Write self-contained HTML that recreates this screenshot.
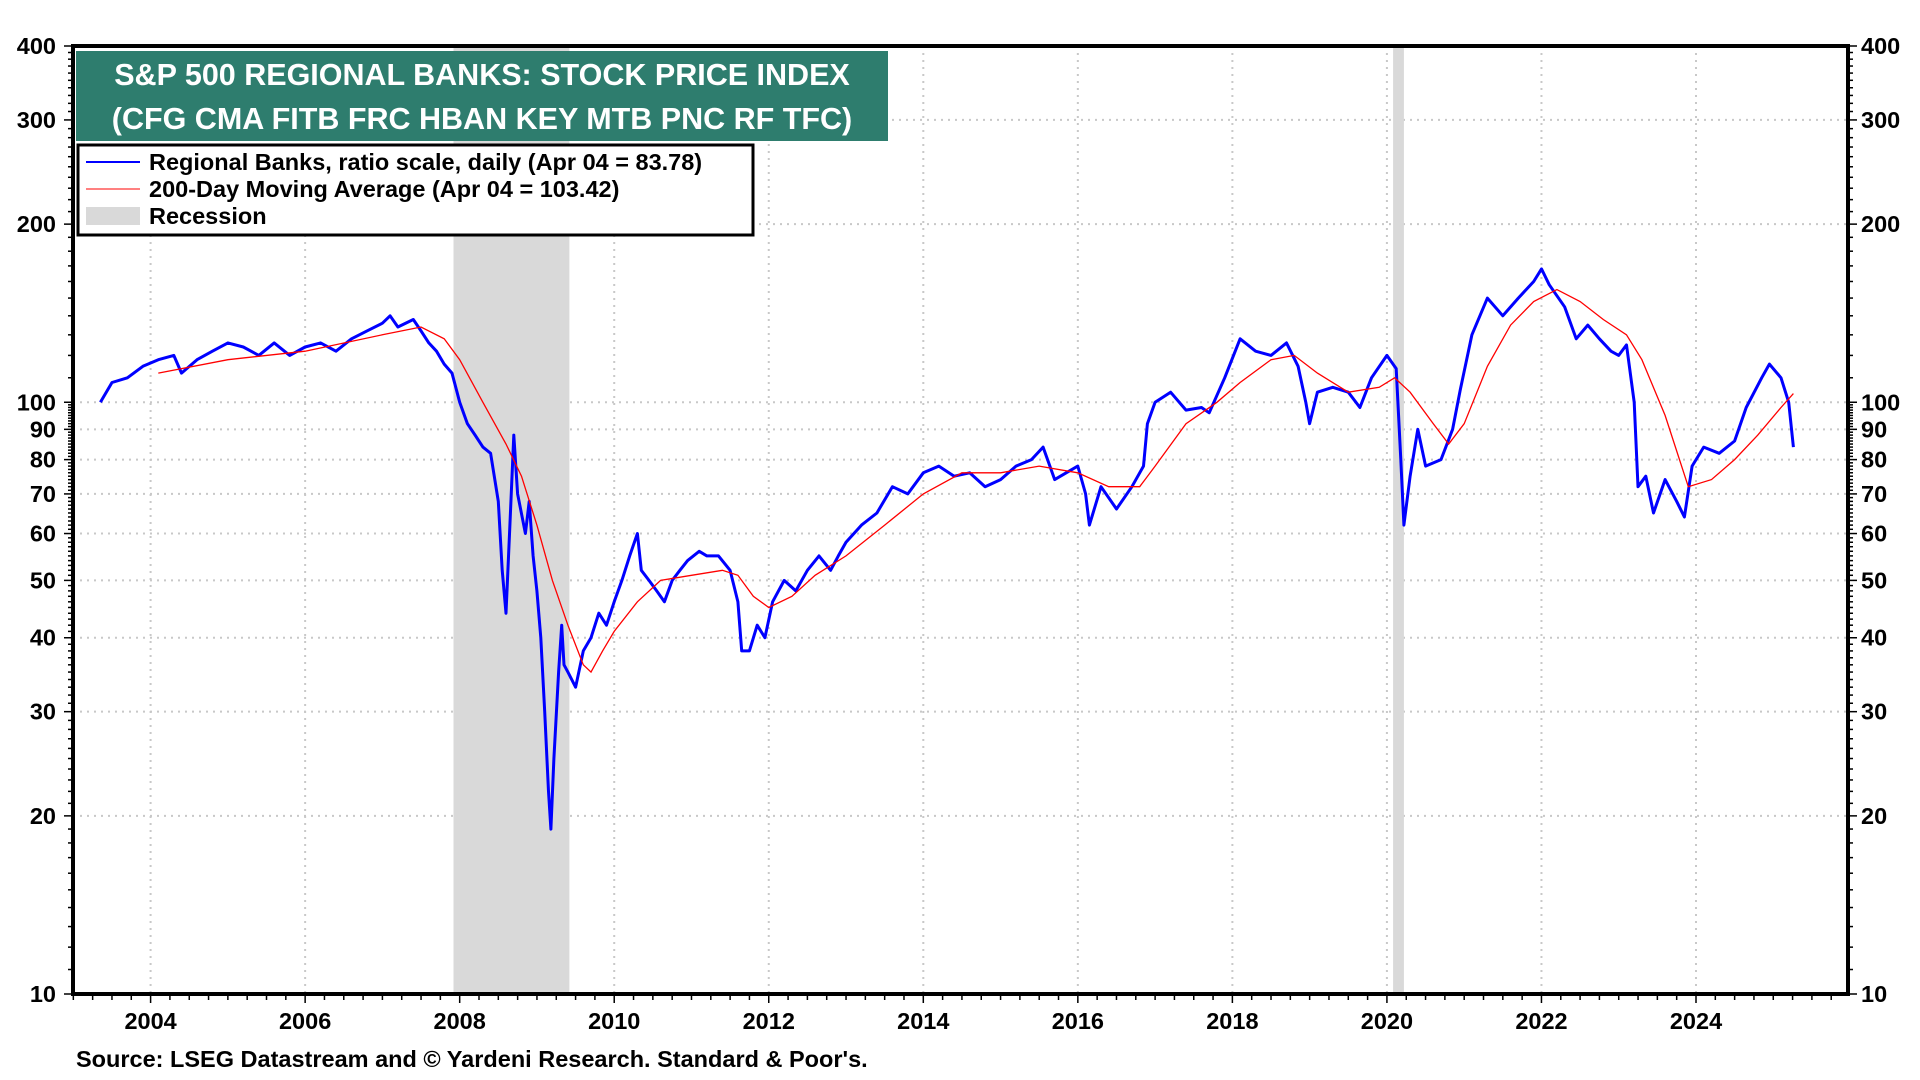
<!DOCTYPE html>
<html><head><meta charset="utf-8"><style>
html,body{margin:0;padding:0;background:#fff;}
svg{display:block;font-family:"Liberation Sans",Arial,sans-serif;}
</style></head><body>
<svg id="chart" width="1920" height="1080" viewBox="0 0 1920 1080">
<g id="grid"></g>
<g id="recessions"></g>
<g id="series"></g>
<g id="axes"></g>
<rect x="76" y="51" width="812" height="90" fill="#2e7d6e"/>
<text x="482" y="85" text-anchor="middle" fill="#fff" font-size="30.5" font-weight="bold">S&amp;P 500 REGIONAL BANKS: STOCK PRICE INDEX</text>
<text x="482" y="129" text-anchor="middle" fill="#fff" font-size="30.5" font-weight="bold">(CFG CMA FITB FRC HBAN KEY MTB PNC RF TFC)</text>
<g>
<rect x="78" y="145" width="675" height="90" fill="#fff" stroke="#000" stroke-width="3"/>
<line x1="86" y1="162" x2="140" y2="162" stroke="#0000ff" stroke-width="2"/>
<text x="149" y="170" font-size="23.5" font-weight="bold">Regional Banks, ratio scale, daily (Apr 04 = 83.78)</text>
<line x1="86" y1="189" x2="140" y2="189" stroke="#ff0000" stroke-width="1"/>
<text x="149" y="197" font-size="23.5" font-weight="bold">200-Day Moving Average (Apr 04 = 103.42)</text>
<rect x="86" y="207" width="54" height="18" fill="#d9d9d9"/>
<text x="149" y="224" font-size="23.5" font-weight="bold">Recession</text>
</g>
<text x="76" y="1067" font-size="23.5" font-weight="bold">Source: LSEG Datastream and © Yardeni Research. Standard &amp; Poor's.</text>
</svg>
<script>
const yTicks=[10,20,30,40,50,60,70,80,90,100,200,300,400];
const xTickYears=[2004,2006,2008,2010,2012,2014,2016,2018,2020,2022,2024];
const recessions=[[2007.92,2009.42],[2020.08,2020.22]];
const priceT=[2003.35,2003.5,2003.7,2003.9,2004.1,2004.3,2004.4,2004.6,2004.8,2005.0,2005.2,2005.4,2005.6,2005.8,2006.0,2006.2,2006.4,2006.6,2006.8,2007.0,2007.1,2007.2,2007.4,2007.5,2007.6,2007.7,2007.8,2007.9,2008.0,2008.1,2008.2,2008.3,2008.4,2008.5,2008.55,2008.6,2008.65,2008.7,2008.75,2008.85,2008.9,2008.95,2009.0,2009.05,2009.1,2009.15,2009.18,2009.22,2009.28,2009.32,2009.35,2009.4,2009.5,2009.6,2009.7,2009.8,2009.9,2010.0,2010.1,2010.2,2010.3,2010.35,2010.45,2010.55,2010.65,2010.75,2010.85,2010.95,2011.1,2011.2,2011.35,2011.5,2011.6,2011.65,2011.75,2011.85,2011.95,2012.05,2012.2,2012.35,2012.5,2012.65,2012.8,2012.9,2013.0,2013.2,2013.4,2013.6,2013.8,2014.0,2014.2,2014.4,2014.6,2014.8,2015.0,2015.2,2015.4,2015.55,2015.7,2015.85,2016.0,2016.1,2016.15,2016.3,2016.5,2016.7,2016.85,2016.9,2017.0,2017.2,2017.4,2017.6,2017.7,2017.9,2018.1,2018.3,2018.5,2018.7,2018.85,2018.95,2019.0,2019.1,2019.3,2019.5,2019.65,2019.8,2020.0,2020.12,2020.18,2020.22,2020.3,2020.4,2020.5,2020.7,2020.85,2020.95,2021.1,2021.3,2021.5,2021.7,2021.9,2022.0,2022.1,2022.3,2022.45,2022.6,2022.75,2022.9,2023.0,2023.1,2023.2,2023.25,2023.35,2023.45,2023.6,2023.75,2023.85,2023.95,2024.1,2024.3,2024.5,2024.65,2024.85,2024.95,2025.1,2025.2,2025.26];
const priceV=[100,108,110,115,118,120,112,118,122,126,124,120,126,120,124,126,122,128,132,136,140,134,138,132,126,122,116,112,100,92,88,84,82,68,52,44,62,88,70,60,68,55,48,40,30,22,19,25,35,42,36,35,33,38,40,44,42,46,50,55,60,52,50,48,46,50,52,54,56,55,55,52,46,38,38,42,40,46,50,48,52,55,52,55,58,62,65,72,70,76,78,75,76,72,74,78,80,84,74,76,78,70,62,72,66,72,78,92,100,104,97,98,96,110,128,122,120,126,115,100,92,104,106,104,98,110,120,114,80,62,75,90,78,80,90,105,130,150,140,150,160,168,158,145,128,135,128,122,120,125,100,72,75,65,74,68,64,78,84,82,86,98,110,116,110,100,84];
const maT=[2004.1,2005.0,2006.0,2007.0,2007.5,2007.8,2008.0,2008.3,2008.6,2008.8,2009.0,2009.2,2009.4,2009.6,2009.7,2009.85,2010.0,2010.3,2010.6,2011.0,2011.4,2011.6,2011.8,2012.0,2012.3,2012.6,2013.0,2013.5,2014.0,2014.5,2015.0,2015.5,2016.0,2016.4,2016.8,2017.0,2017.4,2017.8,2018.1,2018.5,2018.8,2019.1,2019.5,2019.9,2020.1,2020.3,2020.6,2020.8,2021.0,2021.3,2021.6,2021.9,2022.2,2022.5,2022.8,2023.1,2023.3,2023.6,2023.9,2024.2,2024.5,2024.8,2025.1,2025.26];
const maV=[112,118,122,130,134,128,118,100,85,75,62,50,42,36,35,38,41,46,50,51,52,51,47,45,47,51,55,62,70,76,76,78,76,72,72,78,92,100,108,118,120,112,104,106,110,104,92,85,92,115,135,148,155,148,138,130,118,95,72,74,80,88,98,103.42];

const NS='http://www.w3.org/2000/svg';
const L=73,R=1848,T=46,B=994;
function xS(yr){return 150.6+(yr-2004)*77.27;}
function yS(v){return B-(Math.log10(v)-1)/Math.log10(40)*(B-T);}
function mk(tag,attrs,parent){const e=document.createElementNS(NS,tag);for(const k in attrs)e.setAttribute(k,attrs[k]);parent.appendChild(e);return e;}
const grid=document.getElementById('grid'),axes=document.getElementById('axes'),rec=document.getElementById('recessions'),ser=document.getElementById('series');
recessions.forEach(r=>{
 const e=mk('rect',{x:xS(r[0]),y:T,width:xS(r[1])-xS(r[0]),height:B-T,fill:'#d9d9d9'},rec);
 
 
});
xTickYears.forEach(y=>{
 const x=xS(y);
 const g=mk('line',{x1:x,y1:T,x2:x,y2:B,stroke:'#c8c8c8','stroke-width':2,'stroke-dasharray':'2 5'},grid);
 
 
 const t=mk('text',{x:x,y:1029,'text-anchor':'middle','font-size':23.5,'font-weight':'bold'},axes);
 t.textContent=y;
 
 
});
for(let q=2003;q<=2025.9;q+=0.25){const x=xS(q);if(x<L||x>R)continue;mk('line',{x1:x,y1:B,x2:x,y2:B+(Math.abs(q-Math.round(q))<0.01&&Math.round(q)%2===0?9:6),stroke:'#000','stroke-width':1.5},axes);}
for(let v=10;v<=400;v+=(v<100?1:10)){const y=yS(v);const major=yTicks.includes(v);
 mk('line',{x1:L-(major?9:5),y1:y,x2:L,y2:y,stroke:'#000','stroke-width':1.5},axes);
 mk('line',{x1:R,y1:y,x2:R+(major?9:5),y2:y,stroke:'#000','stroke-width':1.5},axes);}
yTicks.forEach(v=>{
 const y=yS(v);
 if(v>10&&v<400){const g=mk('line',{x1:L,y1:y,x2:R,y2:y,stroke:'#c8c8c8','stroke-width':2,'stroke-dasharray':'2 5'},grid);
 
 }
 const a=mk('text',{x:L-17,y:y+8,'text-anchor':'end','font-size':23.5,'font-weight':'bold'},axes);a.textContent=v;
 
 
 const b=mk('text',{x:R+13,y:y+8,'text-anchor':'start','font-size':23.5,'font-weight':'bold'},axes);b.textContent=v;
 
 
});
const fr=mk('rect',{x:L,y:T,width:R-L,height:B-T,fill:'none',stroke:'#000','stroke-width':4},axes);


const pd=priceT.map((t,i)=>(i?'L':'M')+xS(t).toFixed(1)+' '+yS(priceV[i]).toFixed(1)).join(' ');
const p=mk('path',{d:pd,fill:'none',stroke:'#0000ff','stroke-width':3,'stroke-linejoin':'round'},ser);


const md=maT.map((t,i)=>(i?'L':'M')+xS(t).toFixed(1)+' '+yS(maV[i]).toFixed(1)).join(' ');
const m=mk('path',{d:md,fill:'none',stroke:'#ff0000','stroke-width':1.3},ser);


</script>
</body></html>
